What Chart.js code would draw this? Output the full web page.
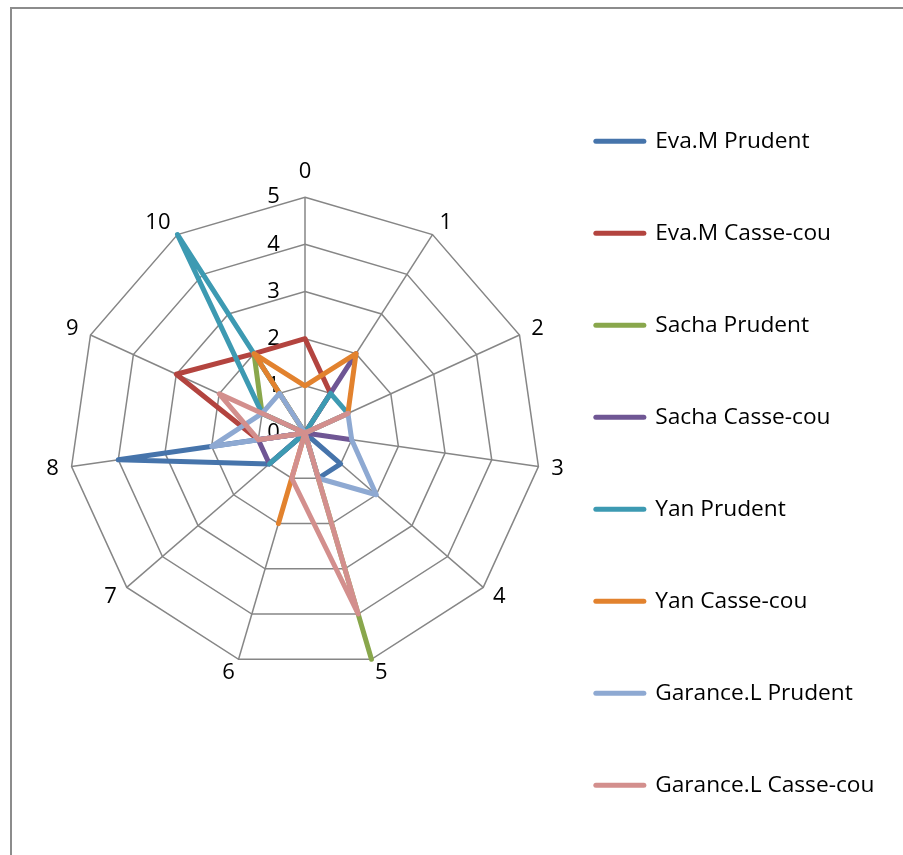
<!DOCTYPE html>
<html>
<head>
<meta charset="utf-8">
<script src="https://cdn.jsdelivr.net/npm/chart.js@4.4.0/dist/chart.umd.min.js"></script>
<style>
  html, body { margin: 0; padding: 0; background: #fff; overflow: hidden; }
  #frame { position: absolute; left: 10px; top: 7px; width: 1000px; height: 1000px; border: 2px solid #8c8c8c; }
  #radar { position: absolute; left: 0; top: 0; }
</style>
</head>
<body>
<div id="frame"></div>
<canvas id="radar" width="903" height="877"></canvas>
<script>
// Axis categories and value scale
const categories = ['0', '1', '2', '3', '4', '5', '6', '7', '8', '9', '10'];
const scaleTicks = [0, 1, 2, 3, 4, 5];

// Scores for each category, one list per player and mode
const evaPrudent      = [0, 0, 0, 0, 1, 1, 0, 1, 4, 0, 0];
const evaCasseCou     = [2, 1, 0, 0, 0, 0, 0, 0, 1, 3, 2];
const sachaPrudent    = [0, 0, 0, 0, 0, 5, 0, 0, 0, 1, 2];
const sachaCasseCou   = [0, 2, 0, 1, 0, 0, 0, 1, 1, 0, 0];
const yanPrudent      = [0, 1, 1, 0, 0, 0, 0, 1, 0, 1, 5];
const yanCasseCou     = [1, 2, 1, 0, 0, 0, 2, 0, 0, 0, 2];
const garancePrudent  = [0, 0, 1, 1, 2, 1, 0, 0, 2, 1, 1];
const garanceCasseCou = [0, 0, 1, 0, 0, 4, 1, 0, 1, 2, 0];

const seriesNames = [
  'Eva.M Prudent', 'Eva.M Casse-cou', 'Sacha Prudent', 'Sacha Casse-cou',
  'Yan Prudent', 'Yan Casse-cou', 'Garance.L Prudent', 'Garance.L Casse-cou'
];
const seriesValues = [
  evaPrudent, evaCasseCou, sachaPrudent, sachaCasseCou,
  yanPrudent, yanCasseCou, garancePrudent, garanceCasseCou
];
const seriesColors = [
  '#4674ab', '#b3443f', '#89a74c', '#6f5694',
  '#3d9ab2', '#e2822e', '#8ea9d2', '#d38f8d'
];

const fontFamily = '"Open Sans", sans-serif';
const tickFont = { family: fontFamily, size: 22, lineHeight: 1 };
// near-zero line height puts each category label's middle on its anchor point
const labelFont = { family: fontFamily, size: 22, lineHeight: '1px' };
// pushes the scale numbers to the left of the vertical axis
const tickPad = '\u00a0'.repeat(11);

const datasets = seriesNames.map(function (name, i) {
  return {
    label: name,
    data: seriesValues[i],
    borderColor: seriesColors[i],
    backgroundColor: seriesColors[i],
    fill: false,
    order: seriesNames.length - i // later series drawn on top
  };
});

// radial scale skips its first tick label, so draw the zero here
const zeroTick = {
  id: 'zeroTick',
  beforeDatasetsDraw: function (chart) {
    const r = chart.scales.r;
    const c = chart.ctx;
    c.save();
    c.font = '22px ' + fontFamily;
    c.fillStyle = '#000';
    c.textAlign = 'center';
    c.textBaseline = 'middle';
    c.fillText(scaleTicks[0] + tickPad, r.xCenter,
      r.yCenter - r.getDistanceFromCenterForValue(scaleTicks[0]));
    c.restore();
  }
};

// the top category label sits a bit higher, clear of the scale numbers
function labelPadding(c) {
  return c.index === 0 ? 12 : 0;
}

var ctx = document.getElementById('radar').getContext('2d');

var radarChart = new Chart(ctx, {
  type: 'radar',
  data: { labels: categories, datasets: datasets },
  options: {
    responsive: false,
    animation: false,
    events: [],
    layout: { padding: { left: 46, right: 18.6, top: 0, bottom: 11 } },
    elements: {
      point: { radius: 0, hoverRadius: 0 },
      line: { borderWidth: 5, tension: 0, borderJoinStyle: 'round', borderCapStyle: 'round' }
    },
    scales: {
      r: {
        min: scaleTicks[0],
        max: scaleTicks[scaleTicks.length - 1],
        ticks: {
          stepSize: 1,
          font: tickFont,
          color: '#000',
          showLabelBackdrop: false,
          callback: function (v) { return v + tickPad; }
        },
        grid: { color: '#868686', lineWidth: 1.5 },
        angleLines: { color: '#868686', lineWidth: 1.5 },
        pointLabels: { font: labelFont, color: '#000', padding: labelPadding }
      }
    },
    plugins: {
      tooltip: { enabled: false },
      legend: {
        position: 'right',
        align: 'end',
        labels: {
          font: { family: fontFamily, size: 22.7, lineHeight: '61px' },
          color: '#000',
          padding: 31,
          usePointStyle: true,
          pointStyleWidth: 48,
          generateLabels: function (chart) {
            return chart.data.datasets.map(function (ds, i) {
              return {
                text: [ds.label],
                fillStyle: ds.borderColor,
                strokeStyle: ds.borderColor,
                fontColor: '#000',
                lineWidth: 5,
                lineCap: 'round',
                pointStyle: 'line',
                hidden: false,
                datasetIndex: i
              };
            });
          },
          sort: function (a, b) { return a.datasetIndex - b.datasetIndex; }
        }
      }
    }
  },
  plugins: [zeroTick]
});
</script>
</body>
</html>
